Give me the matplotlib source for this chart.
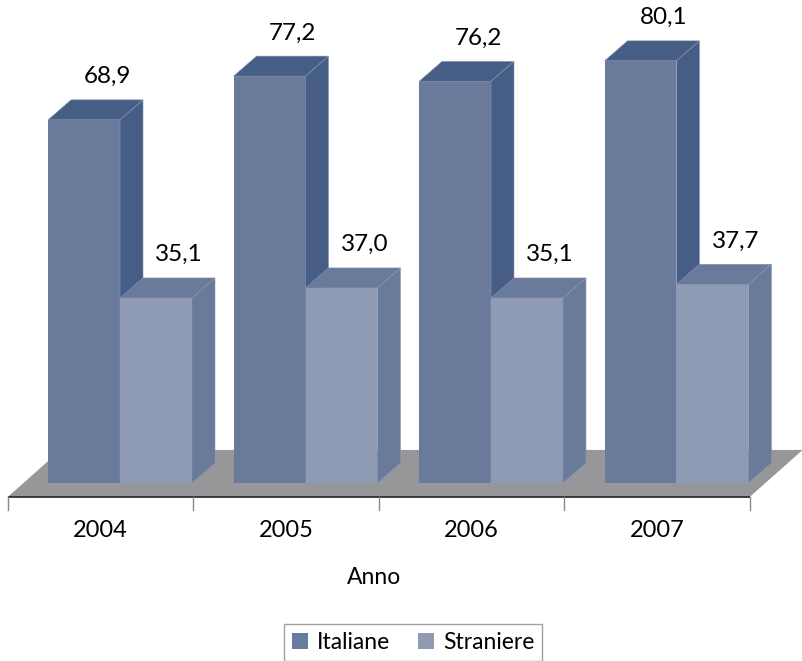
import matplotlib
matplotlib.use("Agg")
import matplotlib.pyplot as plt
from matplotlib.patches import Polygon, Patch

# Data
anni = ["2004", "2005", "2006", "2007"]
serie = ["Italiane", "Straniere"]
italiane = [68.9, 77.2, 76.2, 80.1]
straniere = [35.1, 37.0, 35.1, 37.7]
valori = [italiane, straniere]

# Face colours: (front, top, side)
colori = [
    ("#6a7a9b", "#465e86", "#465e86"),
    ("#8f9bb5", "#6a7a9b", "#6a7a9b"),
]
colore_pavimento = "#979799"

plt.rcParams["font.family"] = ["Lato", "DejaVu Sans"]

fig = plt.figure(figsize=(8.03, 6.61), dpi=100)
ax = fig.add_axes([0, 0, 1, 1])
ax.set_xlim(-0.647, 3.682)
ax.set_ylim(-33.8, 91.65)
ax.axis("off")

# oblique projection of the depth axis
DX, DY = 0.124, 3.8      # offset of a bar's back face
W = 0.388                # bar width (category units)

# floor: extends in front of and behind the bars
f_front_dx, f_front_dy = -0.105, -2.66
f_back_dx, f_back_dy = 0.18, 6.26
x_left, x_right = -0.5, 3.5
pav = [
    (x_left + f_front_dx, f_front_dy),
    (x_right + f_front_dx, f_front_dy),
    (x_right + f_back_dx, f_back_dy),
    (x_left + f_back_dx, f_back_dy),
]
ax.add_patch(Polygon(pav, closed=True, facecolor=colore_pavimento,
                     edgecolor="none", zorder=1))

# category axis along the front edge of the floor
ax.plot([x_left + f_front_dx, x_right + f_front_dx], [f_front_dy, f_front_dy],
        color="#222222", lw=1.2, zorder=2, solid_capstyle="butt")
for k in range(len(anni) + 1):
    xt = x_left + k + f_front_dx
    ax.plot([xt, xt], [f_front_dy, f_front_dy - 2.5], color="#888888",
            lw=1.0, zorder=2)
for i, a in enumerate(anni):
    ax.text(i + f_front_dx, -9.0, a, ha="center", va="center",
            fontsize=17, color="black")
ax.text(1.37, -17.9, "Anno", ha="center", va="center", fontsize=16.5,
        color="black")


def barra(x0, h, cols, z):
    front, top, side = cols
    x1 = x0 + W
    ax.add_patch(Polygon([(x0, 0), (x1, 0), (x1, h), (x0, h)],
                         facecolor=front, edgecolor="none", zorder=z))
    ax.add_patch(Polygon([(x0, h), (x1, h), (x1 + DX, h + DY), (x0 + DX, h + DY)],
                         facecolor=top, edgecolor="#8796b3", lw=0.4, zorder=z))
    ax.add_patch(Polygon([(x1, 0), (x1 + DX, DY), (x1 + DX, h + DY), (x1, h)],
                         facecolor=side, edgecolor="#8796b3", lw=0.4, zorder=z))


z = 3
for i in range(len(anni)):
    for s in range(len(serie)):
        x0 = i - W + s * W
        h = valori[s][i]
        barra(x0, h, colori[s], z)
        z += 1
        ax.text(x0 + W / 2 + DX, h + DY + 4.4, f"{h:.1f}".replace(".", ","),
                ha="center", va="center", fontsize=17.5, color="black",
                zorder=20)

handles = [Patch(facecolor=colori[s][0], edgecolor="none") for s in range(2)]
leg = fig.legend(handles, serie, loc="upper center",
                 bbox_to_anchor=(413 / 803, 1 - 624 / 661), ncol=2,
                 fontsize=16.5, frameon=True, fancybox=False,
                 handlelength=0.7, handleheight=0.7, handletextpad=0.4,
                 columnspacing=1.2, borderpad=0.35, borderaxespad=0)
leg.get_frame().set_edgecolor("#888888")
leg.get_frame().set_linewidth(1.0)

fig.savefig("out.png", dpi=100)
